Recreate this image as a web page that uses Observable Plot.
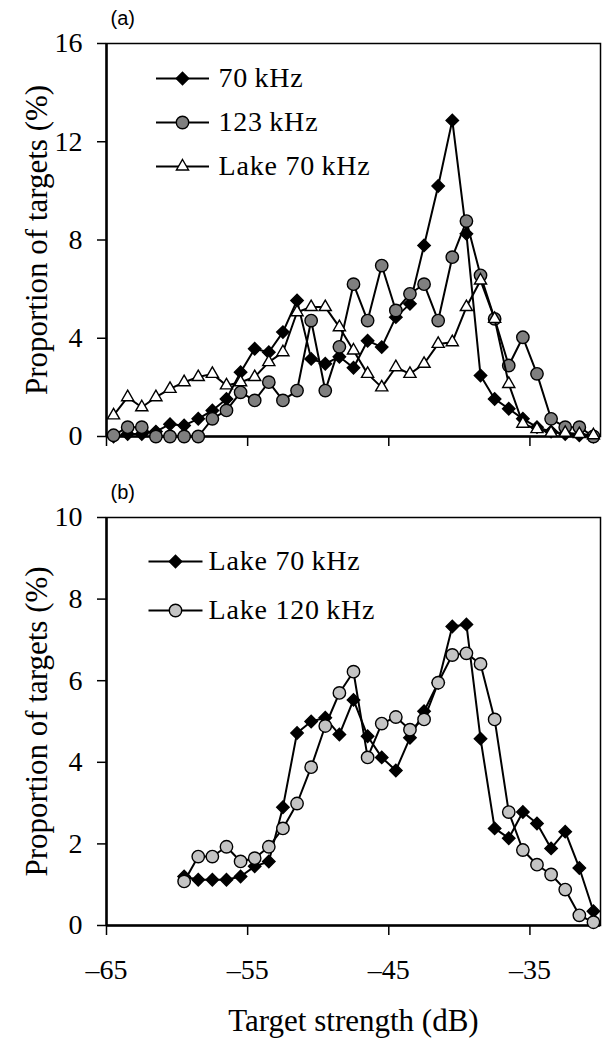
<!DOCTYPE html>
<html>
<head>
<meta charset="utf-8">
<script src="https://cdn.jsdelivr.net/npm/d3@7"></script>
<script src="https://cdn.jsdelivr.net/npm/@observablehq/plot@0.6"></script>
<style>
  html, body { margin: 0; padding: 0; background: #fff; }
  #wrap { width: 604px; height: 1039px; overflow: hidden; }
  #wrap svg { display: block; }
  #wrap svg text.serif { font-family: "Liberation Serif", serif; }
  #wrap svg text.sans { font-family: "Liberation Sans", sans-serif; }
  #wrap svg text.legend { letter-spacing: 0.8px; }
</style>
</head>
<body>
<div id="wrap"></div>
<script>
// ---------- Data ----------
// Panel (a): target strength bins (dB)
const tsA = [-64.5, -63.5, -62.5, -61.5, -60.5, -59.5, -58.5, -57.5, -56.5, -55.5,
             -54.5, -53.5, -52.5, -51.5, -50.5, -49.5, -48.5, -47.5, -46.5, -45.5,
             -44.5, -43.5, -42.5, -41.5, -40.5, -39.5, -38.5, -37.5, -36.5, -35.5,
             -34.5, -33.5, -32.5, -31.5, -30.5];
const a70kHz = [0.0, 0.1, 0.1, 0.2, 0.5, 0.45, 0.72, 1.06, 1.53, 2.62,
                3.57, 3.43, 4.25, 5.54, 3.16, 2.96, 3.25, 2.8, 3.9, 3.64,
                4.86, 5.4, 7.78, 10.2, 12.87, 8.25, 2.48, 1.53, 1.13, 0.72,
                0.38, 0.2, 0.1, 0.05, 0.0];
const a123kHz = [0.05, 0.38, 0.38, 0.0, 0.0, 0.0, 0.0, 0.72, 1.06, 1.8,
                 1.47, 2.21, 1.47, 1.87, 4.72, 1.87, 3.65, 6.2, 4.72, 6.96,
                 5.13, 5.81, 6.2, 4.72, 7.3, 8.77, 6.56, 4.79, 2.89, 4.04,
                 2.55, 0.72, 0.38, 0.38, 0.0];
const aLake70kHz = [0.86, 1.6, 1.19, 1.6, 1.94, 2.21, 2.42, 2.55, 2.08, 2.21,
                    2.42, 3.03, 3.43, 5.06, 5.27, 5.27, 4.45, 3.5, 2.55, 2.0,
                    2.82, 2.55, 2.96, 3.77, 3.84, 5.27, 6.35, 4.79, 2.14, 0.52,
                    0.3, 0.15, 0.15, 0.1, 0.05];

// Panel (b)
const tsB = [-59.5, -58.5, -57.5, -56.5, -55.5, -54.5, -53.5, -52.5, -51.5, -50.5,
             -49.5, -48.5, -47.5, -46.5, -45.5, -44.5, -43.5, -42.5, -41.5, -40.5,
             -39.5, -38.5, -37.5, -36.5, -35.5, -34.5, -33.5, -32.5, -31.5, -30.5];
const bLake70kHz = [1.2, 1.12, 1.12, 1.12, 1.2, 1.45, 1.57, 2.9, 4.72, 5.0,
                    5.09, 4.68, 5.53, 4.64, 4.12, 3.8, 4.6, 5.25, 5.95, 7.33,
                    7.38, 4.58, 2.38, 2.14, 2.78, 2.5, 1.89, 2.3, 1.41, 0.35];
const bLake120kHz = [1.08, 1.69, 1.69, 1.93, 1.57, 1.65, 1.93, 2.38, 2.99, 3.88,
                     4.89, 5.7, 6.22, 4.12, 4.95, 5.11, 4.8, 5.05, 5.95, 6.63,
                     6.67, 6.41, 5.05, 2.78, 1.85, 1.49, 1.25, 0.88, 0.25, 0.08];

// Axis ticks and domains
const xDomain = [-65, -30];
const xTicks = [-65, -55, -45, -35];
const yDomainA = [0, 16];
const yTicksA = [0, 4, 8, 12, 16];
const yDomainB = [0, 10];
const yTicksB = [0, 2, 4, 6, 8, 10];

const labelsA = ["70\u2009kHz", "123\u2009kHz", "Lake 70\u2009kHz"];
const labelsB = ["Lake 70\u2009kHz", "Lake 120\u2009kHz"];
const panelA = "(a)";
const panelB = "(b)";
const yTitle = "Proportion of targets (%)";
const xTitle = "Target strength (dB)";

// ---------- Styles ----------
const styleA = [
  {symbol: "diamond2", fill: "#000", r: 5.6},
  {symbol: "circle", fill: "#7f7f7f", r: 6.2},
  {symbol: "triangle2", fill: "#fff", r: 5.8}
];
const styleB = [
  {symbol: "diamond2", fill: "#000", r: 5.6},
  {symbol: "circle", fill: "#c4c4c4", r: 6.2}
];

function legendLine(half) {
  return {draw(ctx) { ctx.moveTo(-half, 0); ctx.lineTo(half, 0); }};
}

function seriesMarks(xs, ys, st) {
  const rows = xs.map((x, i) => ({ts: x, v: ys[i]}));
  return [
    Plot.line(rows, {x: "ts", y: "v", stroke: "#000", strokeWidth: 2}),
    Plot.dot(rows, {x: "ts", y: "v", symbol: st.symbol, r: st.r, fill: st.fill, stroke: "#000", strokeWidth: 1.4})
  ];
}

function legendMarks(labels, styles, opts) {
  const marks = [];
  labels.forEach((lab, i) => {
    const st = styles[i];
    const dy = opts.dy0 + i * opts.step;
    marks.push(Plot.dot([lab], {frameAnchor: "top-left", dx: opts.lineX, dy, symbol: legendLine(opts.half), stroke: "#000", strokeWidth: 2, fill: "none"}));
    marks.push(Plot.dot([lab], {frameAnchor: "top-left", dx: opts.lineX, dy, symbol: st.symbol, r: st.r, fill: st.fill, stroke: "#000", strokeWidth: 1.4}));
    marks.push(Plot.text([lab], {frameAnchor: "top-left", dx: opts.textX, dy, text: d => d, textAnchor: "start", lineAnchor: "middle", fontSize: 28, fill: "#000"}));
  });
  return marks;
}

// ---------- Panel (a) ----------
const plotA = Plot.plot({
  width: 604,
  height: 470,
  marginTop: 43,
  marginBottom: 34,
  marginLeft: 106,
  marginRight: 4,
  style: {fontSize: "28px", color: "#000", background: "#fff", overflow: "visible"},
  x: {domain: xDomain},
  y: {domain: yDomainA},
  marks: [
    Plot.frame({stroke: "#000", strokeWidth: 1.5}),
    Plot.ruleX([xDomain[0]], {stroke: "#000", strokeWidth: 2.5}),
    Plot.ruleY([yDomainA[0]], {stroke: "#000", strokeWidth: 2.5}),
    Plot.axisY({ticks: yTicksA, tickSize: 9, tickPadding: 15, fontSize: 28, strokeWidth: 1.5,
      label: yTitle, labelAnchor: "center", labelArrow: "none", labelOffset: 82}),
    Plot.axisX({ticks: xTicks, tickSize: 10, tickFormat: () => "", strokeWidth: 1.5, label: null}),
    ...seriesMarks(tsA, a70kHz, styleA[0]),
    ...seriesMarks(tsA, a123kHz, styleA[1]),
    ...seriesMarks(tsA, aLake70kHz, styleA[2]),
    ...legendMarks(labelsA, styleA, {dy0: 35, step: 44, lineX: 76, half: 26.5, textX: 112}),
    Plot.text([panelA], {frameAnchor: "top-left", dx: 4, dy: -25, text: d => d, textAnchor: "start", lineAnchor: "middle", fontSize: 20, fill: "#000"})
  ]
});

// ---------- Panel (b) ----------
const plotB = Plot.plot({
  width: 604,
  height: 569,
  marginTop: 47,
  marginBottom: 114,
  marginLeft: 106,
  marginRight: 4,
  style: {fontSize: "28px", color: "#000", background: "#fff", overflow: "visible"},
  x: {domain: xDomain},
  y: {domain: yDomainB},
  marks: [
    Plot.frame({stroke: "#000", strokeWidth: 1.5}),
    Plot.ruleX([xDomain[0]], {stroke: "#000", strokeWidth: 2.5}),
    Plot.ruleY([yDomainB[0]], {stroke: "#000", strokeWidth: 2.5}),
    Plot.axisY({ticks: yTicksB, tickSize: 9, tickPadding: 15, fontSize: 28, strokeWidth: 1.5,
      label: yTitle, labelAnchor: "center", labelArrow: "none", labelOffset: 82}),
    Plot.axisX({ticks: xTicks, tickSize: 10, tickPadding: 24, fontSize: 28, strokeWidth: 1.5,
      tickFormat: d => (d < 0 ? "\u2013" : "") + Math.abs(d),
      label: xTitle, labelAnchor: "center", labelArrow: "none", labelOffset: 105}),
    ...seriesMarks(tsB, bLake70kHz, styleB[0]),
    ...seriesMarks(tsB, bLake120kHz, styleB[1]),
    ...legendMarks(labelsB, styleB, {dy0: 44, step: 49, lineX: 69, half: 27, textX: 102}),
    Plot.text([panelB], {frameAnchor: "top-left", dx: 4, dy: -25, text: d => d, textAnchor: "start", lineAnchor: "middle", fontSize: 20, fill: "#000"})
  ]
});

// fonts: serif everywhere except panel letters; axis titles larger
const legendSet = new Set([...labelsA, ...labelsB]);
for (const svg of [plotA, plotB]) {
  svg.removeAttribute("font-family");
  svg.querySelectorAll("g").forEach(g => g.removeAttribute("font-family"));
  svg.querySelectorAll("text").forEach(t => {
    const s = t.textContent;
    t.removeAttribute("font-family");
    if (s === panelA || s === panelB) t.setAttribute("class", "sans");
    else if (legendSet.has(s)) t.setAttribute("class", "serif legend");
    else t.setAttribute("class", "serif");
    if (s === yTitle || s === xTitle) t.setAttribute("font-size", 31);
  });
}

const wrap = document.getElementById("wrap");
wrap.appendChild(plotA);
wrap.appendChild(plotB);
</script>
</body>
</html>
